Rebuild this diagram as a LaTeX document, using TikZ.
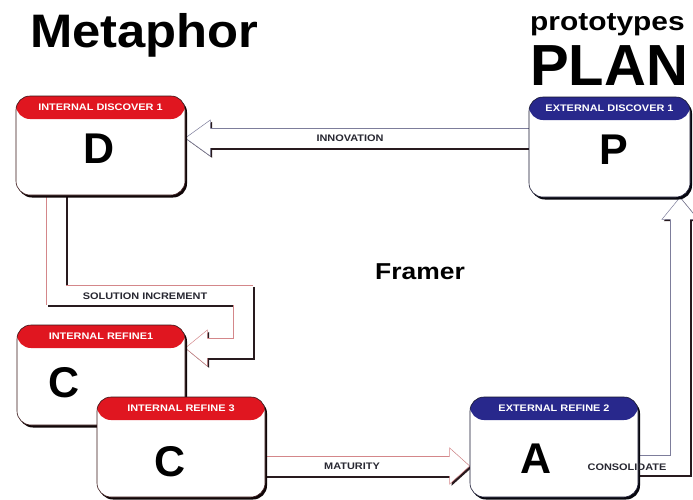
\documentclass[tikz,border=0pt]{standalone}
\usepackage{fontspec}
\setmainfont{Liberation Sans}
\newfontfamily\widesans[FakeStretch=1.15]{Liberation Sans}
\usepackage{tikz}
\usetikzlibrary{calc}
\usetikzlibrary{shadows}
\pgfdeclarelayer{bg}
\pgfsetlayers{bg,main}
\definecolor{hdrred}{RGB}{224,22,32}
\definecolor{hdrblue}{RGB}{40,40,140}
\definecolor{rededge}{RGB}{212,135,138}
\definecolor{blueedge}{RGB}{125,125,155}
\definecolor{redshade}{RGB}{55,20,22}
\definecolor{blueshade}{RGB}{22,22,48}
\definecolor{arrowshade}{RGB}{40,26,30}
\definecolor{tagtext}{RGB}{40,40,50}
\tikzset{
    card/.style 2 args={rectangle, rounded corners=14pt, minimum width=168pt, minimum height=100pt,
        inner sep=0pt, fill=white, draw=#2, line width=.6pt,
        drop shadow={shadow xshift=2pt, shadow yshift=-2.5pt, fill=#2!30!black, opacity=1},
        path picture={\fill[#1] (path picture bounding box.north west) rectangle ([yshift=-23pt]path picture bounding box.north east);}},
    hdr/.style={font=\widesans\bfseries\fontsize{9.5}{9.5}\selectfont, text=white, inner sep=0pt},
    letter/.style={font=\bfseries\fontsize{43}{43}\selectfont, inner sep=0pt},
    tag/.style={font=\widesans\bfseries\fontsize{9.5}{9.5}\selectfont, text=tagtext, inner sep=0pt},
}
\newcommand{\blockarrow}[4]{%
    \draw[line width=20pt, arrowshade, transform canvas={xshift=1.8pt, yshift=-1.8pt}] #2;
    \fill[arrowshade, transform canvas={xshift=1.8pt, yshift=-1.8pt}]
        ($(#3)!18pt!90:(#4)$) -- (#4) -- ($(#3)!18pt!-90:(#4)$) -- cycle;
    \draw[line width=20pt, #1] #2;
    \draw[line width=19pt, white] #2;
    \fill[white] ($(#3)!18pt!90:(#4)$) -- (#4) -- ($(#3)!18pt!-90:(#4)$) -- cycle;
    \draw[#1, line width=.5pt]
        ($(#3)!10pt!90:(#4)$) -- ($(#3)!18pt!90:(#4)$) -- (#4) -- ($(#3)!18pt!-90:(#4)$) -- ($(#3)!10pt!-90:(#4)$);
}
\begin{document}
\begin{tikzpicture}[x=1pt, y=-1pt]
    \useasboundingbox(0, 0) rectangle (693, 499);
    % titles
    \node[anchor=base west, inner sep=0pt, font=\bfseries\fontsize{47}{47}\selectfont](metaphor) at (30, 47){\scalebox{1.08}[1]{Metaphor}};
    \node[anchor=base west, inner sep=0pt, font=\widesans\bfseries\fontsize{26}{26}\selectfont](proto) at (530, 30){prototypes};
    \node[anchor=base west, inner sep=0pt, font=\bfseries\fontsize{58}{58}\selectfont](plan) at (530, 85){PLAN};
    \node[anchor=base west, inner sep=0pt, font=\widesans\bfseries\fontsize{23}{23}\selectfont](framer) at (375, 279){Framer};
    % cards
    \node[card={hdrred}{redshade}, minimum width=169pt, minimum height=99pt](D) at (100.5, 145.5){};
    \node[card={hdrblue}{blueshade}, minimum width=161pt](P) at (609.5, 147){};
    \node[card={hdrred}{redshade}](C1) at (101, 375){};
    \node[card={hdrred}{redshade}](C2) at (181, 447){};
    \node[card={hdrblue}{blueshade}](A) at (554, 447){};
    \node[hdr](Dh) at ([yshift=-12pt]D.north){INTERNAL DISCOVER 1};
    \node[hdr](Ph) at ([yshift=-12pt]P.north){EXTERNAL DISCOVER 1};
    \node[hdr](C1h) at ([yshift=-12pt]C1.north){INTERNAL REFINE1};
    \node[hdr](C2h) at ([yshift=-12pt]C2.north){INTERNAL REFINE 3};
    \node[hdr](Ah) at ([yshift=-11pt]A.north){EXTERNAL REFINE 2};
    \node[letter](Dl) at (99, 149){D};
    \node[letter](Pl) at (614, 150){P};
    \node[letter](C1l) at (64, 383){C};
    \node[letter](C2l) at (170, 462){C};
    \node[letter](Al) at (536, 459){A};
    % connectors
    \coordinate(innoS) at ([yshift=9pt]P.west);
    \coordinate(innoT) at (D.east |- innoS);
    \coordinate(innoB) at ([xshift=25pt]innoT);
    \coordinate(solS) at ([xshift=-44.5pt]D.south);
    \coordinate(solT) at ([yshift=27pt]C1.east);
    \coordinate(solB) at ([xshift=22pt]solT);
    \coordinate(solK) at (243, 295);
    \coordinate(matS) at ([yshift=-19pt]C2.east);
    \coordinate(matT) at (A.west |- matS);
    \coordinate(matB) at ([xshift=-20pt]matT);
    \coordinate(conS) at ([yshift=-18pt]A.east);
    \coordinate(conT) at ([xshift=70.5pt]P.south);
    \coordinate(conB) at ([yshift=-22pt]conT);
    \begin{pgfonlayer}{bg}
        \fill[white](0, 0) rectangle (693, 499);
        \blockarrow{blueedge}{(innoS) -- (innoB)}{innoB}{innoT}
        \blockarrow{rededge}{(solS) |- (solK) |- (solB)}{solB}{solT}
        \blockarrow{rededge}{(matS) -- (matB)}{matB}{matT}
        \blockarrow{blueedge}{(conS) -| (conB)}{conB}{conT}
    \end{pgfonlayer}
    \node[tag](innoL) at (350, 138){INNOVATION};
    \node[tag](solL) at (145, 296){SOLUTION INCREMENT};
    \node[tag](matL) at (352, 466){MATURITY};
    \node[tag](conL) at (627, 467){CONSOLIDATE};
\end{tikzpicture}
\end{document}
